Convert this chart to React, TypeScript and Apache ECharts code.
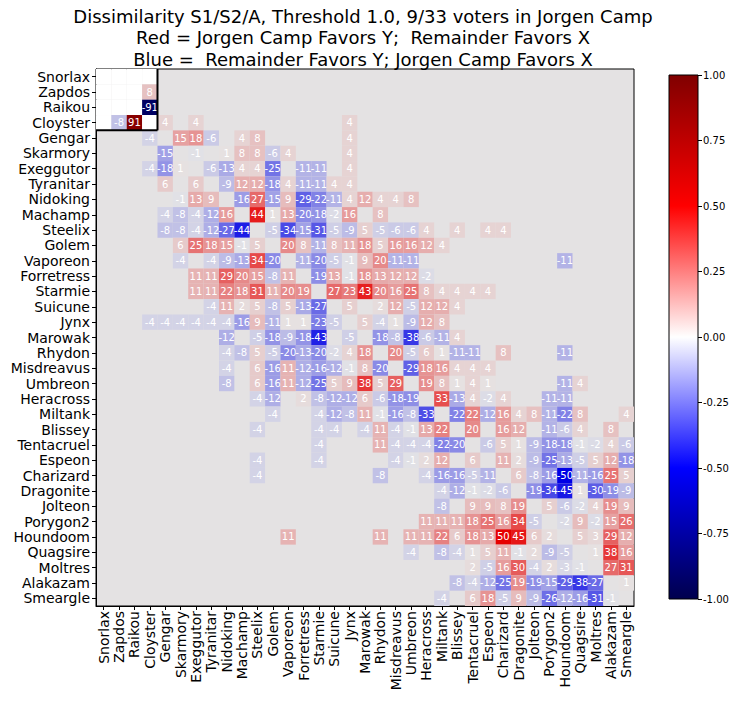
import React, { useEffect, useRef } from "react";
import * as echarts from "echarts";

const names = [
  "Snorlax", "Zapdos", "Raikou", "Cloyster", "Gengar", "Skarmory", "Exeggutor",
  "Tyranitar", "Nidoking", "Machamp", "Steelix", "Golem", "Vaporeon", "Forretress",
  "Starmie", "Suicune", "Jynx", "Marowak", "Rhydon", "Misdreavus", "Umbreon",
  "Heracross", "Miltank", "Blissey", "Tentacruel", "Espeon", "Charizard", "Dragonite",
  "Jolteon", "Porygon2", "Houndoom", "Quagsire", "Moltres", "Alakazam", "Smeargle",
];

const titleLines = [
  "Dissimilarity S1/S2/A, Threshold 1.0, 9/33 voters in Jorgen Camp",
  "Red = Jorgen Camp Favors Y;  Remainder Favors X",
  "Blue =  Remainder Favors Y; Jorgen Camp Favors X",
];

// camp block (first 4 voters)
const campSize = 4;

// colour bar range / ticks
const cbarMin = -1;
const cbarMax = 1;
const cbarStep = 0.25;

const _ = null;
// each row: [first column index, values (percent), null = no value]
const rows: [number, (number | null)[]][] = [
  [0, [0, 0, 0, 0]], // Snorlax
  [0, [0, 0, 0, 8]], // Zapdos
  [0, [0, 0, 0, -91]], // Raikou
  [0, [0, -8, 91, 0, 4, _, 4, _, _, _, _, _, _, _, _, _, 4]], // Cloyster
  [3, [-4, _, 15, 18, -6, _, 4, 8, _, _, _, _, _, 4]], // Gengar
  [4, [-15, _, -1, _, 1, 8, 8, -6, 4, _, _, _, 4]], // Skarmory
  [3, [-4, -18, 1, _, -6, -13, 4, 4, -25, _, -11, -11, _, 4]], // Exeggutor
  [4, [6, _, 6, _, -9, 12, 12, -18, 4, -11, -11, 4, 4]], // Tyranitar
  [5, [-1, 13, 9, _, -16, 27, -15, 9, -29, -22, -11, 4, 12, 4, 4, 8]], // Nidoking
  [4, [-4, -8, -4, -12, 16, _, 44, 1, 13, -20, -18, -2, 16, _, 8]], // Machamp
  [4, [-8, -8, -4, -12, -27, -44, _, -5, -34, -15, -31, -5, -9, 5, -5, -6, -6, 4, _, 4, _, 4, 4]], // Steelix
  [5, [6, 25, 18, 15, -1, 5, _, 20, 8, -11, 8, 11, 18, 5, 16, 16, 12, 4]], // Golem
  [5, [-4, _, -4, -9, -13, 34, -20, _, -11, -20, -5, -1, 9, 20, -11, -11, _, _, _, _, _, _, _, _, _, -11]], // Vaporeon
  [6, [11, 11, 29, 20, 15, -8, 11, _, -19, 13, -1, 18, 13, 12, 12, -2]], // Forretress
  [6, [11, 11, 22, 18, 31, 11, 20, 19, _, 27, 23, 43, 20, 16, 25, 8, 4, 4, 4, 4]], // Starmie
  [7, [-4, 11, 2, 5, -8, 5, -13, -27, _, 5, _, 2, 12, -5, 12, 12, 4]], // Suicune
  [3, [-4, -4, -4, -4, -4, -4, -16, 9, -11, 1, 1, -23, -5, _, 5, -4, 1, -9, 12, 8]], // Jynx
  [8, [-12, _, -5, -18, -9, -18, -43, _, -5, _, -18, -8, -38, -6, -11, 4]], // Marowak
  [8, [-4, -8, 5, -5, -20, -13, -20, -2, 4, 18, _, 20, -5, 6, 1, -11, -11, _, 8, _, _, _, -11]], // Rhydon
  [8, [-4, _, 6, -16, 11, -12, -16, -12, -1, 8, -20, _, -29, 18, 16, 4, 4, 4]], // Misdreavus
  [8, [-8, _, 6, -16, 11, -12, -25, 5, 9, 38, 5, 29, _, 19, 8, 1, 4, 1, _, _, _, _, -11, 4]], // Umbreon
  [10, [-4, -12, _, 2, -8, -12, -12, 6, -6, -18, -19, _, 33, -13, 4, -2, 4, _, _, -11, -11]], // Heracross
  [11, [-4, _, _, -4, -12, -8, 11, -1, -16, -8, -33, _, -22, 22, -12, 16, 4, 8, -11, -22, 8, _, _, 4]], // Miltank
  [10, [-4, _, _, _, -4, -4, _, -4, 11, -4, -1, 13, 22, _, 20, _, 16, 12, _, -11, -6, 4, _, 8]], // Blissey
  [14, [-4, _, _, _, 11, -4, -4, -4, -22, -20, _, -6, 5, 1, -9, -18, -18, -1, -2, 4, -6]], // Tentacruel
  [10, [-4, _, _, _, -4, _, _, _, _, -4, -1, 2, 12, _, 6, _, 11, 2, -9, -25, -13, -5, 5, 12, -18]], // Espeon
  [10, [-4, _, _, _, _, _, _, _, -8, _, _, -4, -16, -16, -5, -11, _, 6, -8, -16, -50, -11, -16, 25, 5]], // Charizard
  [22, [-4, -12, -1, -2, -6, _, -19, -34, -45, 1, -30, -19, -9]], // Dragonite
  [22, [-8, _, 9, 9, 8, 19, _, 5, -6, -2, 4, 19, 9]], // Jolteon
  [21, [11, 11, 11, 18, 25, 16, 34, -5, _, -2, 9, -2, 15, 26]], // Porygon2
  [12, [11, _, _, _, _, _, 11, _, 11, 11, 22, 6, 18, 13, 50, 45, 6, 2, _, 5, 3, 29, 12]], // Houndoom
  [20, [-4, _, -8, -4, 1, 5, 11, -1, 2, -9, -5, _, 1, 38, 16]], // Quagsire
  [24, [2, -5, 16, 30, -4, 2, -3, -1, _, 27, 31]], // Moltres
  [23, [-8, -4, -12, -25, 19, -19, -15, -29, -38, -27, _, 1]], // Alakazam
  [22, [-4, _, 6, 18, -5, 9, -9, -26, -12, -16, -31, -1]], // Smeargle
];

const SEISMIC = [
  [0, 0, 76.5],
  [0, 0, 255],
  [255, 255, 255],
  [255, 0, 0],
  [127.5, 0, 0],
];
function seismic(v: number): number[] {
  const t = Math.min(1, Math.max(0, (v + 1) / 2)) * 4;
  const i = Math.min(3, Math.floor(t));
  const f = t - i;
  const a = SEISMIC[i];
  const b = SEISMIC[i + 1];
  return a.map((x, k) => x + (b[k] - x) * f);
}
const DIM = 0.9;
function cellColor(p: number): string {
  if (p === 0) return "#ffffff";
  const c = seismic(p / 100).map((x) => Math.round(x * DIM));
  return `rgb(${c[0]},${c[1]},${c[2]})`;
}
const rgb = (c: number[]) => `rgb(${Math.round(c[0])},${Math.round(c[1])},${Math.round(c[2])})`;

const FONT = "DejaVu Sans";

export default function App() {
  const ref = useRef<HTMLDivElement>(null);
  useEffect(() => {
    if (!ref.current) return;
    const chart = echarts.init(ref.current, undefined, { renderer: "svg" });

    const data: number[][] = [];
    rows.forEach(([start, vals], r) => {
      vals.forEach((v, k) => {
        if (v === null) return;
        data.push([start + k, r, v]);
      });
    });

    const gradient = new echarts.graphic.LinearGradient(0, 0, 0, 1, [
      { offset: 0, color: rgb(seismic(1)) },
      { offset: 0.25, color: rgb(seismic(0.5)) },
      { offset: 0.5, color: rgb(seismic(0)) },
      { offset: 0.75, color: rgb(seismic(-0.5)) },
      { offset: 1, color: rgb(seismic(-1)) },
    ]);

    chart.setOption({
      animation: false,
      textStyle: { fontFamily: FONT },
      grid: [
        {
          left: 96, top: 69, width: 538, height: 537,
          show: true, backgroundColor: "#e4e2e3", borderColor: "#000", borderWidth: 1,
        },
        {
          left: 669, top: 75, width: 29, height: 524,
          show: true, backgroundColor: gradient, borderColor: "#000", borderWidth: 1,
        },
      ],
      xAxis: [
        {
          type: "category", data: names, gridIndex: 0, position: "bottom",
          axisLine: { show: true, lineStyle: { color: "#000" } },
          axisTick: { show: true, alignWithLabel: true, length: 4, lineStyle: { color: "#000" } },
          axisLabel: { rotate: 90, fontSize: 14, color: "#000", margin: 5, fontFamily: FONT, interval: 0 },
          splitLine: { show: false },
        },
        { type: "category", data: [""], gridIndex: 1, show: false },
      ],
      yAxis: [
        {
          type: "category", data: names, gridIndex: 0, inverse: true,
          axisLine: { show: true, lineStyle: { color: "#000" } },
          axisTick: { show: true, alignWithLabel: true, length: 4, lineStyle: { color: "#000" } },
          axisLabel: { fontSize: 14, color: "#000", margin: 6, fontFamily: FONT, interval: 0 },
          splitLine: { show: false },
        },
        {
          type: "value", gridIndex: 1, min: cbarMin, max: cbarMax, interval: cbarStep,
          position: "right",
          axisLine: { show: false },
          axisTick: { show: true, length: 4, lineStyle: { color: "#000" } },
          axisLabel: {
            fontSize: 10, color: "#000", margin: 5, fontFamily: FONT,
            formatter: (v: number) => v.toFixed(2),
          },
          splitLine: { show: false },
        },
      ],
      series: [
        {
          type: "custom",
          xAxisIndex: 0,
          yAxisIndex: 0,
          data,
          renderItem: (params: any, api: any) => {
            const x = api.value(0);
            const y = api.value(1);
            const v = api.value(2);
            const c = api.coord([x, y]);
            const s = api.size([1, 1]);
            return {
              type: "group",
              children: [
                {
                  type: "rect",
                  shape: { x: c[0] - s[0] / 2, y: c[1] - s[1] / 2, width: s[0], height: s[1] },
                  style: { fill: cellColor(v), stroke: null },
                },
                {
                  type: "text",
                  x: c[0],
                  y: c[1],
                  style: {
                    text: v === 0 ? "" : String(v),
                    fill: "#fff",
                    font: `10px '${FONT}'`,
                    textAlign: "center",
                    textVerticalAlign: "middle",
                    verticalAlign: "middle",
                  },
                },
              ],
            };
          },
        },
        { type: "line", xAxisIndex: 1, yAxisIndex: 1, data: [] },
      ],
    });

    const p0 = chart.convertToPixel({ gridIndex: 0 }, [0, 0]) as number[];
    const p1 = chart.convertToPixel({ gridIndex: 0 }, [1, 1]) as number[];
    const pc = chart.convertToPixel({ gridIndex: 0 }, [campSize - 1, campSize - 1]) as number[];
    const hw = (p1[0] - p0[0]) / 2;
    const hh = (p1[1] - p0[1]) / 2;
    const left = p0[0] - hw;
    const top = p0[1] - hh;
    const right = pc[0] + hw;
    const bottom = pc[1] + hh;

    chart.setOption({
      graphic: {
        elements: [
          ...titleLines.map((t, i) => ({
            type: "text",
            x: 363,
            y: 16 + i * 21.5,
            style: {
              text: t, fill: "#000", font: `18px '${FONT}'`,
              textAlign: "center", textVerticalAlign: "middle", verticalAlign: "middle",
            },
          })),
          {
            type: "line", z: 10,
            shape: { x1: left, y1: bottom, x2: right, y2: bottom },
            style: { stroke: "#000", lineWidth: 2 },
          },
          {
            type: "line", z: 10,
            shape: { x1: right, y1: top, x2: right, y2: bottom },
            style: { stroke: "#000", lineWidth: 2 },
          },
        ],
      },
    });

    return () => chart.dispose();
  }, []);
  return (
    <div
      ref={ref}
      style={{ position: "absolute", left: 0, top: 0, width: 739, height: 703, background: "#fff" }}
    />
  );
}
